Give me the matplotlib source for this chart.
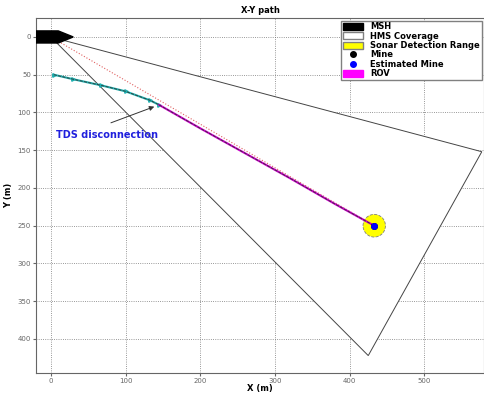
import matplotlib
matplotlib.use("Agg")
import matplotlib.pyplot as plt
from matplotlib.patches import Polygon, Circle, Patch
from matplotlib.lines import Line2D

# MSH (barco) forma
msh_x = [-20, 10, 30, 10, -20]
msh_y = [-8, -8, 0, 8, 8]

# HMS cobertura (triangulo)
hms_x = [0, 577, 425]
hms_y = [0, 152, 422]

# mina
mina_x = 433
mina_y = 250
radio_sonar = 15

# trayectoria antes de la desconexion
tds_x = [4, 30, 67, 100, 133, 145]
tds_y = [50, 56, 64, 72, 84, 90]

# trayectoria ROV
rov_x = [145, 200, 260, 320, 380, 433]
rov_y = [90, 121, 154, 187, 221, 250]

fig = plt.figure(figsize=(4.85, 3.93), dpi=100)
ax = fig.add_axes([0.074, 0.051, 0.924, 0.903])

ax.add_patch(Polygon(list(zip(hms_x, hms_y)), closed=True, facecolor="white",
                     edgecolor="#444444", linewidth=0.7, zorder=1))
ax.add_patch(Polygon(list(zip(msh_x, msh_y)), closed=True, facecolor="black",
                     edgecolor="black", zorder=3))

# linea directa a la mina
ax.plot([0, mina_x], [0, mina_y], color="#e06060", linestyle=":", linewidth=0.8, zorder=2)

ax.add_patch(Circle((mina_x, mina_y), radio_sonar, facecolor="yellow",
                    edgecolor="gray", linestyle="--", linewidth=0.6, zorder=2))

ax.plot(tds_x, tds_y, color="#20b0b0", linewidth=1.5, marker=">", markersize=2.5,
        markevery=1, zorder=4)
ax.plot(tds_x, tds_y, color="#333333", linestyle="--", linewidth=0.6, zorder=5)
ax.plot(rov_x, rov_y, color="#cc00cc", linewidth=1.5, zorder=4)
ax.plot(rov_x, rov_y, color="#333333", linestyle="--", linewidth=0.6, zorder=5)

ax.plot(mina_x, mina_y, "o", color="black", markersize=4, zorder=6)
ax.plot(mina_x, mina_y, "o", color="blue", markersize=4, zorder=7)

ax.annotate("", xy=(142, 91), xytext=(77, 115),
            arrowprops=dict(arrowstyle="-|>", color="#333333", lw=0.7, mutation_scale=7))
ax.text(7, 130, "TDS disconnection", color="#2020dd", fontsize=7, fontweight="bold",
        va="center")

ax.set_xlim(-20, 580)
ax.set_ylim(445, -25)
ax.set_xticks([0, 100, 200, 300, 400, 500])
ax.set_yticks([0, 50, 100, 150, 200, 250, 300, 350, 400])
ax.tick_params(labelsize=5, colors="#666666", length=2, pad=1.5)
ax.grid(True, linestyle=":", color="#777777", linewidth=0.6)
ax.set_axisbelow(True)
for s in ax.spines.values():
    s.set_color("#666666")

ax.set_title("X-Y path", fontsize=6, fontweight="bold", pad=4)
ax.set_xlabel("X (m)", fontsize=6, fontweight="bold", labelpad=0)
ax.set_ylabel("Y (m)", fontsize=6, fontweight="bold", labelpad=3)

handles = [
    Patch(facecolor="black", edgecolor="black", label="MSH"),
    Patch(facecolor="white", edgecolor="gray", label="HMS Coverage"),
    Patch(facecolor="yellow", edgecolor="gray", label="Sonar Detection Range"),
    Line2D([], [], marker="o", color="black", linestyle="", markersize=4, label="Mine"),
    Line2D([], [], marker="o", color="blue", linestyle="", markersize=4, label="Estimated Mine"),
    Patch(facecolor="magenta", edgecolor="magenta", label="ROV"),
]
leg = ax.legend(handles=handles, loc="upper right", prop={"weight": "bold", "size": 6},
                fancybox=False, framealpha=1, edgecolor="gray", borderpad=0.2,
                labelspacing=0.05, handlelength=2.5, handleheight=0.9, borderaxespad=0.3)

fig.savefig("out.png", dpi=100)
